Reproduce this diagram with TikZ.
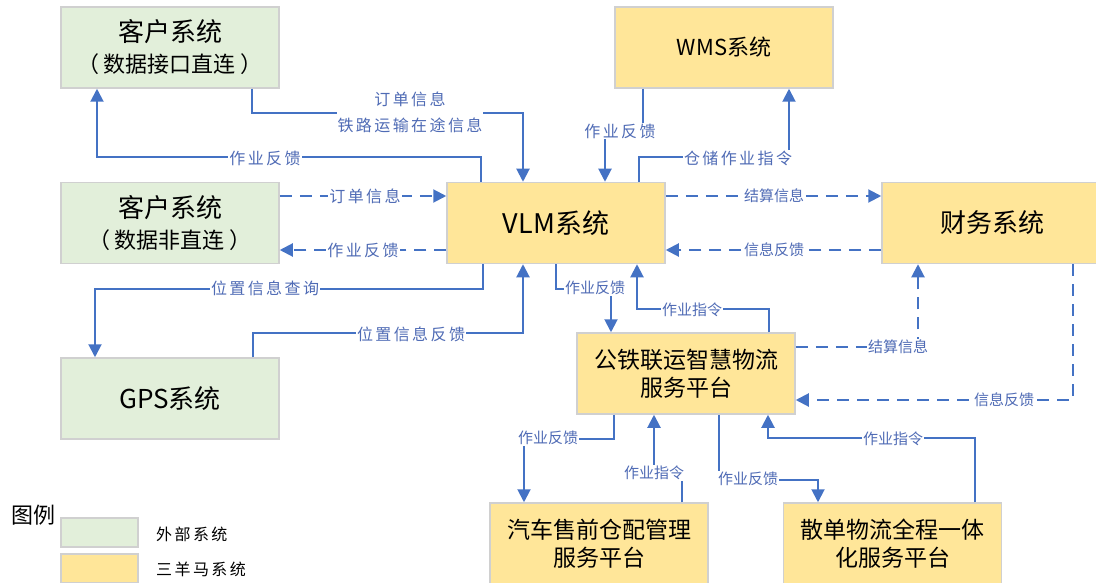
\documentclass[tikz,border=0pt]{standalone}
\usepackage{fontspec}
\setmainfont{Noto Sans CJK SC}
\newfontfamily\spfont[LetterSpace=15]{Noto Sans CJK SC}
\usetikzlibrary{arrows.meta}
\definecolor{lineblue}{HTML}{4472C4}
\definecolor{lbltext}{HTML}{4F6BB5}
\definecolor{extgreen}{HTML}{E2EFDA}
\definecolor{sysyellow}{HTML}{FFE699}
\definecolor{boxborder}{HTML}{D0D0D0}
\begin{document}
\begin{tikzpicture}[x=1pt,y=-1pt,
  box/.style={draw=boxborder, line width=1.5pt, minimum width=218pt, minimum height=81pt, inner sep=0pt, align=center, text=black},
  ext/.style={box, fill=extgreen},
  sys/.style={box, fill=sysyellow},
  bigfont/.style={font=\fontsize{26}{31}\selectfont},
  midfont/.style={font=\fontsize{23}{28}\selectfont},
  conn/.style={draw=lineblue, line width=2pt, -{Triangle[length=13pt,width=13pt]}},
  dconn/.style={conn, dash pattern=on 12pt off 8pt},
  biglbl/.style={fill=white, inner sep=1pt, text=lbltext, font=\spfont\fontsize{16}{26}\selectfont, align=center},
  smalllbl/.style={fill=white, inner sep=1pt, text=lbltext, font=\fontsize{15}{18}\selectfont},
  legtext/.style={anchor=west, inner sep=0pt, text=black, font=\spfont\fontsize{16}{20}\selectfont},
]
\useasboundingbox (0,0) rectangle (1096,583);

% boxes
\node[ext, bigfont] (c1) at (170,47.5) {客户系统\\{\fontsize{22}{31}\selectfont （\hspace{5pt}数据接口直连\hspace{5pt}）}};
\node[ext, bigfont] (c2) at (170,223) {客户系统\\{\fontsize{22}{31}\selectfont （\hspace{5pt}数据非直连\hspace{5pt}）}};
\node[ext, bigfont] (gps) at (170,398.5) {GPS系统};
\node[sys, font=\fontsize{27}{31}\selectfont] (vlm) at (556,223) {VLM系统};
\node[sys, font=\fontsize{22}{28}\selectfont] (wms) at (724,47.5) {WMS系统};
\node[sys, bigfont, minimum width=220pt] (fin) at (992,223) {财务系统};
\node[sys, midfont] (gt) at (686,373.5) {公铁联运智慧物流\\服务平台};
\node[sys, midfont] (car) at (599,543.5) {汽车售前仓配管理\\服务平台};
\node[sys, midfont] (sd) at (892.5,543.5) {散单物流全程一体\\化服务平台};

% legend
\node[text=black, inner sep=0pt, font=\fontsize{22}{26}\selectfont] (lg) at (34,515) {图例};
\node[ext, minimum width=77pt, minimum height=29pt] (lgg) at (99.5,532.5) {};
\node[sys, minimum width=77pt, minimum height=29pt] (lgy) at (99.5,568.5) {};
\node[legtext] (lgt1) at (156,534) {外部系统};
\node[legtext] (lgt2) at (156,569) {三羊马系统};

% connectors
\draw[conn] ([xshift=82pt]c1.south) -- ++(0,24) -| ([xshift=-33pt]vlm.north);
\draw[conn] ([xshift=-75.5pt]vlm.north) -- ++(0,-25) -| ([xshift=-73pt]c1.south);
\draw[dconn] ([yshift=27pt]c2.east) -- ([yshift=27pt]vlm.west);
\draw[dconn] ([yshift=-27pt]vlm.west) -- ([yshift=-27pt]c2.east);
\draw[conn] ([xshift=-73pt]vlm.south) -- ++(0,25) -| ([xshift=-75pt]gps.north);
\draw[conn] ([xshift=83pt]gps.north) -- ++(0,-24) -| ([xshift=-33pt]vlm.south);
\draw[conn] ([xshift=-81pt]wms.south) -- ++(0,43) -| ([xshift=49pt]vlm.north);
\draw[conn] ([xshift=83pt]vlm.north) -- ++(0,-25) -| ([xshift=65pt]wms.south);
\draw[dconn] ([yshift=27pt]vlm.east) -- ([yshift=27pt]fin.west);
\draw[dconn] ([yshift=-27pt]fin.west) -- ([yshift=-27pt]vlm.east);
\draw[conn] (vlm.south) -- ++(0,25) -| ([xshift=-75pt]gt.north);
\draw[conn] ([xshift=83pt]gt.north) -- ++(0,-23) -| ([xshift=81pt]vlm.south);
\draw[dconn] ([yshift=26.5pt]gt.east) -| ([xshift=-74pt]fin.south);
\draw[dconn] ([xshift=81pt]fin.south) |- ([yshift=-26.5pt]gt.east);
\draw[conn] ([xshift=-72pt]gt.south) -- ++(0,24) -| ([xshift=-75pt]car.north);
\draw[conn] ([xshift=83pt]car.north) -- ++(0,-30) -| ([xshift=-32pt]gt.south);
\draw[conn] ([xshift=33pt]gt.south) -- ++(0,65) -| ([xshift=-74.5pt]sd.north);
\draw[conn] ([xshift=82.5pt]sd.north) -- ++(0,-64) -| ([xshift=82pt]gt.south);

% labels
\node[biglbl] (l1) at (410,112) {订单信息\\铁路运输在途信息};
\node[biglbl] (l2) at (265,158) {作业反馈};
\node[biglbl] (l3) at (365,196) {订单信息};
\node[biglbl] (l4) at (363,250) {作业反馈};
\node[biglbl] (l5) at (265,288) {位置信息查询};
\node[biglbl] (l6) at (411,334) {位置信息反馈};
\node[biglbl] (l7) at (620,131) {作业反馈};
\node[biglbl] (l8) at (738,158) {仓储作业指令};
\node[smalllbl] (l9) at (774,196) {结算信息};
\node[smalllbl] (l10) at (774,250) {信息反馈};
\node[smalllbl] (l11) at (595,288) {作业反馈};
\node[smalllbl] (l12) at (692,310) {作业指令};
\node[smalllbl] (l13) at (898,347) {结算信息};
\node[smalllbl] (l14) at (1004,400) {信息反馈};
\node[smalllbl] (l15) at (548,438) {作业反馈};
\node[smalllbl] (l16) at (654,473) {作业指令};
\node[smalllbl] (l17) at (748,479) {作业反馈};
\node[smalllbl] (l18) at (893,439) {作业指令};
\end{tikzpicture}
\end{document}
